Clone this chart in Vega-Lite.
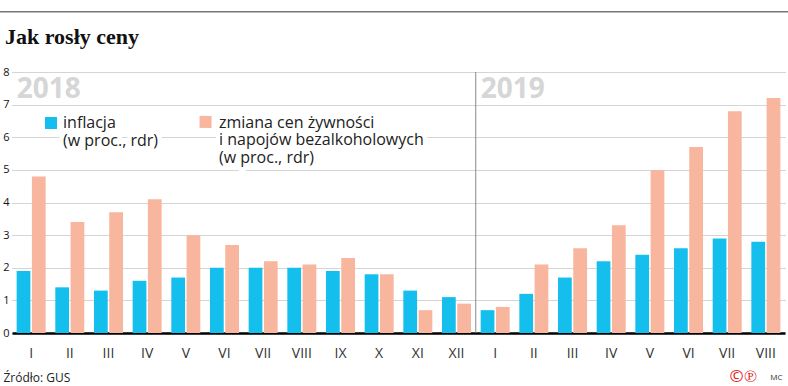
{
 "$schema": "https://vega.github.io/schema/vega-lite/v6.json",
 "width": 773, "height": 261,
 "autosize": {"type": "none"},
 "padding": {"left": 12, "top": 72, "right": 3, "bottom": 53},
 "background": "white",
 "config": {"view": {"stroke": null}, "font": "Open Sans",
            "axisY": {"title": null, "values": [0, 1, 2, 3, 4, 5, 6, 7, 8], "tickCount": 9, "labelOverlap": false, "domain": false, "ticks": false,
                      "labelFontSize": 11, "labelColor": "#111111", "labelPadding": 3,
                      "gridDash": [1, 1], "gridColor": "#aaaaaa", "gridWidth": 1}},
 "title": {"text": "Jak rosły ceny", "anchor": "start", "frame": "group", "font": "Liberation Serif", "fontSize": 22, "fontWeight": "bold", "color": "#111111", "dx": -7, "offset": -38},
 "datasets": {
  "bars": [
   {"m": "2018-I", "s": "inflacja", "v": 1.9}, {"m": "2018-I", "s": "zywnosc", "v": 4.8},
   {"m": "2018-II", "s": "inflacja", "v": 1.4}, {"m": "2018-II", "s": "zywnosc", "v": 3.4},
   {"m": "2018-III", "s": "inflacja", "v": 1.3}, {"m": "2018-III", "s": "zywnosc", "v": 3.7},
   {"m": "2018-IV", "s": "inflacja", "v": 1.6}, {"m": "2018-IV", "s": "zywnosc", "v": 4.1},
   {"m": "2018-V", "s": "inflacja", "v": 1.7}, {"m": "2018-V", "s": "zywnosc", "v": 3.0},
   {"m": "2018-VI", "s": "inflacja", "v": 2.0}, {"m": "2018-VI", "s": "zywnosc", "v": 2.7},
   {"m": "2018-VII", "s": "inflacja", "v": 2.0}, {"m": "2018-VII", "s": "zywnosc", "v": 2.2},
   {"m": "2018-VIII", "s": "inflacja", "v": 2.0}, {"m": "2018-VIII", "s": "zywnosc", "v": 2.1},
   {"m": "2018-IX", "s": "inflacja", "v": 1.9}, {"m": "2018-IX", "s": "zywnosc", "v": 2.3},
   {"m": "2018-X", "s": "inflacja", "v": 1.8}, {"m": "2018-X", "s": "zywnosc", "v": 1.8},
   {"m": "2018-XI", "s": "inflacja", "v": 1.3}, {"m": "2018-XI", "s": "zywnosc", "v": 0.7},
   {"m": "2018-XII", "s": "inflacja", "v": 1.1}, {"m": "2018-XII", "s": "zywnosc", "v": 0.9},
   {"m": "2019-I", "s": "inflacja", "v": 0.7}, {"m": "2019-I", "s": "zywnosc", "v": 0.8},
   {"m": "2019-II", "s": "inflacja", "v": 1.2}, {"m": "2019-II", "s": "zywnosc", "v": 2.1},
   {"m": "2019-III", "s": "inflacja", "v": 1.7}, {"m": "2019-III", "s": "zywnosc", "v": 2.6},
   {"m": "2019-IV", "s": "inflacja", "v": 2.2}, {"m": "2019-IV", "s": "zywnosc", "v": 3.3},
   {"m": "2019-V", "s": "inflacja", "v": 2.4}, {"m": "2019-V", "s": "zywnosc", "v": 5.0},
   {"m": "2019-VI", "s": "inflacja", "v": 2.6}, {"m": "2019-VI", "s": "zywnosc", "v": 5.7},
   {"m": "2019-VII", "s": "inflacja", "v": 2.9}, {"m": "2019-VII", "s": "zywnosc", "v": 6.8},
   {"m": "2019-VIII", "s": "inflacja", "v": 2.8}, {"m": "2019-VIII", "s": "zywnosc", "v": 7.2}
  ],
  "years": [{"m": "2018-I", "t": "2018"}, {"m": "2019-I", "t": "2019"}],
  "one": [{"m": "2019-I"}],
  "leg1": [{"m": "2018-I", "t": ["inflacja", "(w proc., rdr)"]}],
  "leg2": [{"m": "2018-V", "t": ["zmiana cen żywności", "i napojów bezalkoholowych", "(w proc., rdr)"]}]
 },
 "layer": [
  {
   "data": {"name": "bars"},
   "mark": {"type": "bar"},
   "encoding": {
    "x": {"field": "m", "type": "nominal", "sort": null,
          "scale": {"paddingInner": 0.25, "paddingOuter": 0.12,
                    "domain": ["2018-I","2018-II","2018-III","2018-IV","2018-V","2018-VI","2018-VII","2018-VIII","2018-IX","2018-X","2018-XI","2018-XII","2019-I","2019-II","2019-III","2019-IV","2019-V","2019-VI","2019-VII","2019-VIII"]},
          "axis": {"labelExpr": "split(datum.value, '-')[1]", "labelAngle": 0, "labelFontSize": 14, "labelColor": "#333333", "labelPadding": 13,
                   "ticks": false, "domainColor": "#000000", "domainWidth": 2.5,
                   "title": "Źródło: GUS", "titleAnchor": "start", "titleAlign": "left", "titleX": -9, "titleY": 48, "titleBaseline": "alphabetic",
                   "titleFontSize": 12, "titleFontWeight": "normal", "titleColor": "#222222"}},
    "xOffset": {"field": "s", "type": "nominal", "sort": ["inflacja", "zywnosc"], "scale": {"paddingInner": 0.1}},
    "y": {"field": "v", "type": "quantitative", "scale": {"domain": [0, 8], "nice": false},
          "axis": {"title": null, "values": [0, 1, 2, 3, 4, 5, 6, 7, 8], "tickCount": 9, "labelOverlap": false}},
    "color": {"field": "s", "type": "nominal", "sort": ["inflacja", "zywnosc"],
              "scale": {"range": ["#14bfee", "#f7b69d"]}, "legend": null}
   }
  },
  {
   "data": {"name": "one"},
   "mark": {"type": "rule", "color": "#888888", "strokeWidth": 1},
   "encoding": {"x": {"field": "m", "type": "nominal", "bandPosition": -0.17}, "y": {"datum": 0, "axis": {"title": null, "values": [0, 1, 2, 3, 4, 5, 6, 7, 8], "tickCount": 9, "labelOverlap": false}}, "y2": {"datum": 8}}
  },
  {
   "data": {"name": "years"},
   "mark": {"type": "text", "align": "left", "baseline": "alphabetic", "fontSize": 28, "fontWeight": "bold", "color": "#d6d6d6"},
   "encoding": {"x": {"field": "m", "type": "nominal", "bandPosition": 0}, "y": {"datum": 7.2, "axis": {"title": null, "values": [0, 1, 2, 3, 4, 5, 6, 7, 8], "tickCount": 9, "labelOverlap": false}}, "text": {"field": "t"}}
  },
  {
   "data": {"name": "leg1"},
   "mark": {"type": "square", "size": 144, "filled": true, "opacity": 1, "color": "#14bfee"},
   "encoding": {"x": {"field": "m", "type": "nominal", "bandPosition": 1.185}, "y": {"datum": 6.437, "axis": {"title": null, "values": [0, 1, 2, 3, 4, 5, 6, 7, 8], "tickCount": 9, "labelOverlap": false}}}
  },
  {
   "data": {"name": "leg2"},
   "mark": {"type": "square", "size": 144, "filled": true, "opacity": 1, "color": "#f7b69d"},
   "encoding": {"x": {"field": "m", "type": "nominal", "bandPosition": 1.18}, "y": {"datum": 6.47, "axis": {"title": null, "values": [0, 1, 2, 3, 4, 5, 6, 7, 8], "tickCount": 9, "labelOverlap": false}}}
  },
  {
   "data": {"name": "leg1"},
   "mark": {"type": "text", "align": "left", "baseline": "alphabetic", "fontSize": 16, "lineHeight": 18, "fill": "white", "stroke": "white", "strokeWidth": 9, "strokeJoin": "round"},
   "encoding": {"x": {"field": "m", "type": "nominal", "bandPosition": 1.6}, "y": {"datum": 6.284, "axis": {"title": null, "values": [0, 1, 2, 3, 4, 5, 6, 7, 8], "tickCount": 9, "labelOverlap": false}}, "text": {"field": "t"}}
  },
  {
   "data": {"name": "leg1"},
   "mark": {"type": "text", "align": "left", "baseline": "alphabetic", "fontSize": 16, "lineHeight": 18, "color": "#222222"},
   "encoding": {"x": {"field": "m", "type": "nominal", "bandPosition": 1.6}, "y": {"datum": 6.284, "axis": {"title": null, "values": [0, 1, 2, 3, 4, 5, 6, 7, 8], "tickCount": 9, "labelOverlap": false}}, "text": {"field": "t"}}
  },
  {
   "data": {"name": "leg2"},
   "mark": {"type": "text", "align": "left", "baseline": "alphabetic", "fontSize": 16, "lineHeight": 17.3, "fill": "white", "stroke": "white", "strokeWidth": 9, "strokeJoin": "round"},
   "encoding": {"x": {"field": "m", "type": "nominal", "bandPosition": 1.644}, "y": {"datum": 6.284, "axis": {"title": null, "values": [0, 1, 2, 3, 4, 5, 6, 7, 8], "tickCount": 9, "labelOverlap": false}}, "text": {"field": "t"}}
  },
  {
   "data": {"name": "leg2"},
   "mark": {"type": "text", "align": "left", "baseline": "alphabetic", "fontSize": 16, "lineHeight": 17.3, "color": "#222222"},
   "encoding": {"x": {"field": "m", "type": "nominal", "bandPosition": 1.644}, "y": {"datum": 6.284, "axis": {"title": null, "values": [0, 1, 2, 3, 4, 5, 6, 7, 8], "tickCount": 9, "labelOverlap": false}}, "text": {"field": "t"}}
  },
  {
   "data": {"name": "one"},
   "mark": {"type": "rule", "color": "#777777", "strokeWidth": 1.5},
   "encoding": {"x": {"value": -12}, "x2": {"value": 776}, "y": {"datum": 9.85, "axis": {"title": null, "values": [0, 1, 2, 3, 4, 5, 6, 7, 8], "tickCount": 9, "labelOverlap": false}}}
  },
  {
   "data": {"values": [{"m": "2019-VII", "t": "©℗"}]},
   "mark": {"type": "text", "align": "center", "baseline": "alphabetic", "fontSize": 17, "color": "#e2231a"},
   "encoding": {"x": {"field": "m", "type": "nominal", "bandPosition": 1.05}, "y": {"datum": -1.5, "axis": {"title": null, "values": [0, 1, 2, 3, 4, 5, 6, 7, 8], "tickCount": 9, "labelOverlap": false}}, "text": {"field": "t"}}
  },
  {
   "data": {"values": [{"m": "2019-VIII", "t": "MC"}]},
   "mark": {"type": "text", "align": "left", "baseline": "alphabetic", "fontSize": 8, "color": "#333333"},
   "encoding": {"x": {"field": "m", "type": "nominal", "bandPosition": 0.65}, "y": {"datum": -1.45, "axis": {"title": null, "values": [0, 1, 2, 3, 4, 5, 6, 7, 8], "tickCount": 9, "labelOverlap": false}}, "text": {"field": "t"}}
  }
 ]
}
